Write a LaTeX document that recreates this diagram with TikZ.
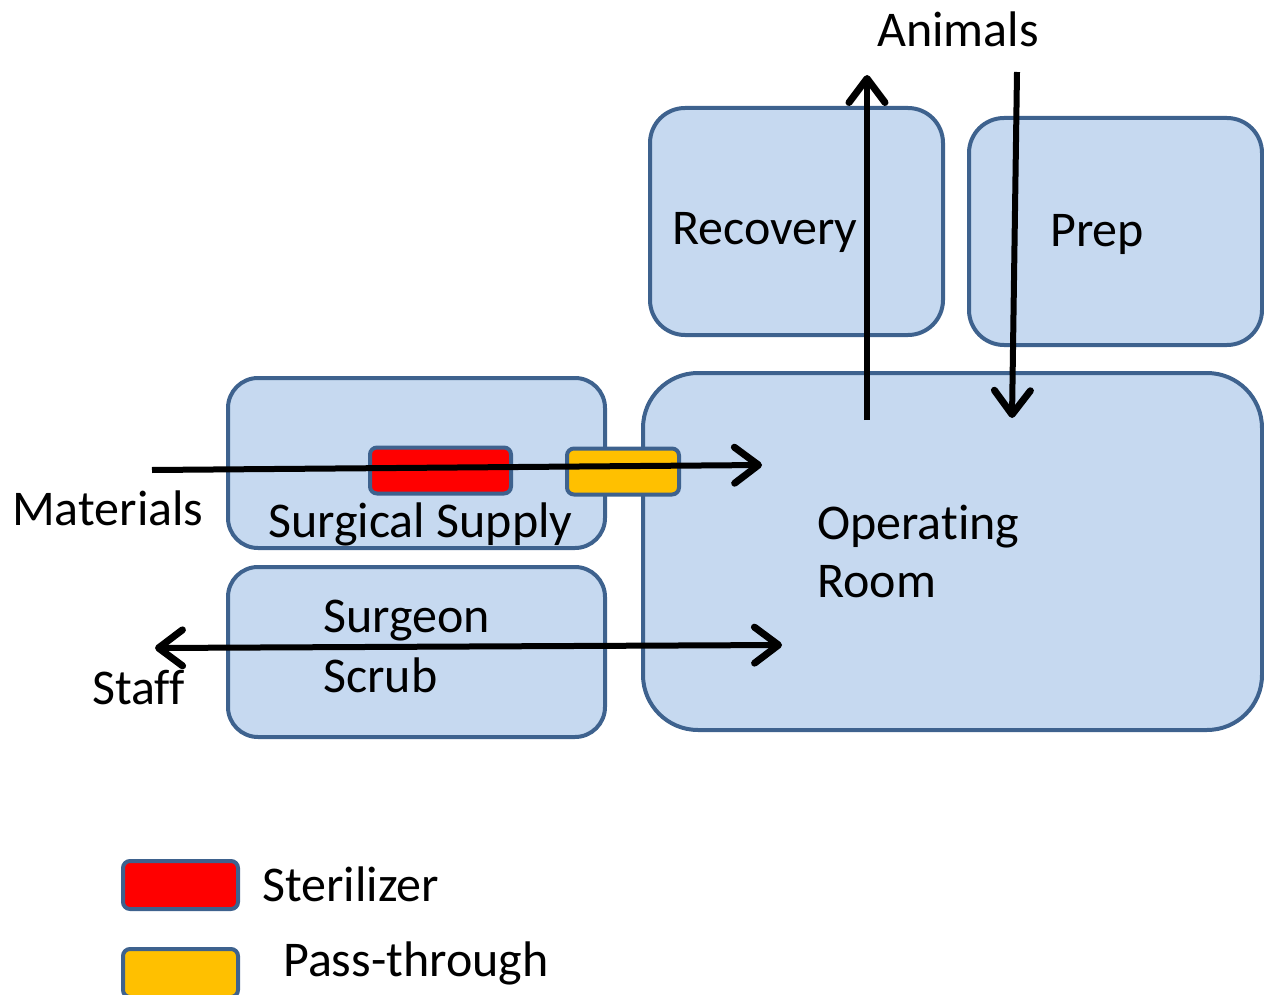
\documentclass[tikz,border=0pt]{standalone}
\usepackage{fontspec}
\setmainfont{Carlito}[Ligatures={NoCommon}]
\usetikzlibrary{arrows.meta}
\definecolor{roomfill}{RGB}{198,217,240}
\definecolor{roomline}{RGB}{62,98,142}
\definecolor{sterred}{RGB}{255,0,0}
\definecolor{passor}{RGB}{255,192,0}
\tikzset{
  room/.style={draw=roomline, fill=roomfill, line width=4pt, rounded corners=#1, inner sep=0pt},
  room/.default=32pt,
  device/.style={draw=roomline, line width=4pt, rounded corners=7pt, inner sep=0pt, minimum height=46pt},
  lbl/.style={anchor=base west, inner sep=0pt, font=\fontsize{50}{60}\selectfont},
  tip/.tip={Straight Barb[length=24pt,width=36pt,line width=7pt,round]},
  flow/.style={line width=6pt, -tip},
  flow2/.style={line width=6pt, tip-tip},
}
\begin{document}
\begin{tikzpicture}[x=1pt,y=-1pt]
\useasboundingbox (0,0) rectangle (1264,995);
% rooms
\node[room=35pt, minimum width=293pt, minimum height=227pt] (recovery) at (796.5,221.5) {};
\node[room=35pt, minimum width=293pt, minimum height=227pt] (prep) at (1115.5,231.5) {};
\node[room=55pt, minimum width=619pt, minimum height=357pt] (or) at (952.5,551.5) {};
\node[room=30pt, minimum width=377pt, minimum height=170pt] (supply) at (416.5,463) {};
\node[room=30pt, minimum width=377pt, minimum height=170pt] (scrub) at (416.5,652) {};
% devices
\node[device, fill=sterred, minimum width=141pt] (ster) at (440.5,470.5) {};
\node[device, fill=passor, minimum width=112pt] (pass) at (623,471.5) {};
% texts
\node[lbl] (tanimals) at (877,47) {Animals};
\node[lbl] (trecovery) at (672,244) {Recovery};
\node[lbl] (tprep) at (1050,247) {Prep};
\node[lbl] (tmaterials) at (12,525) {Materials};
\node[lbl] (tsupply) at (268,537) {Surgical Supply};
\node[lbl] (tsurgeon) at (323,632) {Surgeon};
\node[lbl] (tscrub) at (323,692) {Scrub};
\node[lbl] (tstaff) at (92,704) {Staff};
\node[lbl] (toper) at (817,539) {Operating};
\node[lbl] (troom) at (817,597) {Room};
% flow ends
\coordinate (mstart) at (152,470);
\coordinate (mend) at (762,465);
\coordinate (sstart) at (155,648);
\coordinate (send) at (782,645);
\coordinate (ustart) at (867,420);
\coordinate (uend) at (867,75);
\coordinate (dstart) at (1017,72);
\coordinate (dend) at (1012,418);
\draw[flow] (mstart) -- (mend);
\draw[flow2] (sstart) -- (send);
\draw[flow] (ustart) -- (uend);
\draw[flow] (dstart) -- (dend);
% legend
\node[device, fill=sterred, minimum width=115pt, minimum height=48pt] (legster) at (180.5,885) {};
\node[device, fill=passor, minimum width=115pt, minimum height=48pt] (legpass) at (180.5,973) {};
\node[lbl] (tster) at (262,901) {Sterilizer};
\node[lbl] (tpass) at (283,976) {Pass-through};
\end{tikzpicture}
\end{document}
